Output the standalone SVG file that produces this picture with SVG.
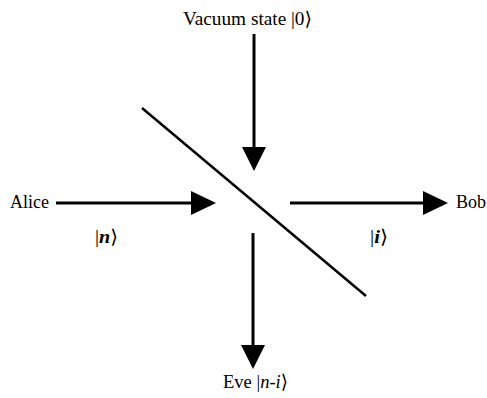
<svg xmlns="http://www.w3.org/2000/svg" width="487" height="398" viewBox="0 0 487 398">
<style>
text{font-family:"Liberation Serif","DejaVu Serif",serif;font-size:19px;fill:#000}
.it{font-style:italic}
.shaft{stroke:#000;stroke-width:3;fill:none}
.bs{stroke:#000;stroke-width:2.5;fill:none}
.head{fill:#000}
</style>
<rect width="487" height="398" fill="#fff"/>
<g id="beamsplitter"><line class="bs" x1="142" y1="108" x2="366" y2="296"/></g>
<g id="connectors">
<line class="shaft" x1="254" y1="34" x2="254" y2="150"/>
<polygon class="head" points="242,147 266,147 254,171"/>
<line class="shaft" x1="56" y1="203" x2="194" y2="203"/>
<polygon class="head" points="191,191 191,215 216,203"/>
<line class="shaft" x1="290" y1="203" x2="426" y2="203"/>
<polygon class="head" points="423,191 423,215 448,203"/>
<line class="shaft" x1="253" y1="233" x2="253" y2="348"/>
<polygon class="head" points="241,345 265,345 253,369"/>
</g>
<g id="vacuum"><text x="183" y="25" textLength="129" lengthAdjust="spacingAndGlyphs">Vacuum state |0⟩</text></g>
<g id="alice"><text x="10" y="208" textLength="39" lengthAdjust="spacingAndGlyphs">Alice</text></g>
<g id="bob"><text x="456" y="208" textLength="30" lengthAdjust="spacingAndGlyphs">Bob</text></g>
<g id="eve"><text x="223" y="388" textLength="65" lengthAdjust="spacingAndGlyphs">Eve |<tspan class="it">n-i</tspan>⟩</text></g>
<g id="label-n"><text x="95" y="243" textLength="23" lengthAdjust="spacingAndGlyphs">|<tspan class="it" font-weight="bold">n</tspan>⟩</text></g>
<g id="label-i"><text x="370" y="243" textLength="18" lengthAdjust="spacingAndGlyphs">|<tspan class="it" font-weight="bold">i</tspan>⟩</text></g>
</svg>
